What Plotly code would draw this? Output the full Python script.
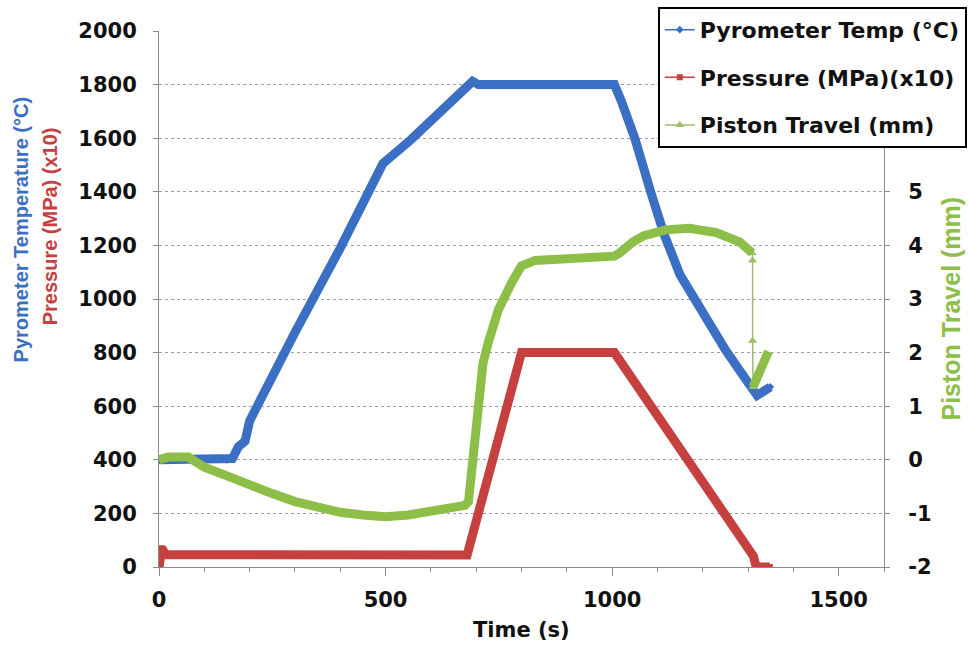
import plotly.graph_objects as go

# ---- Pyrometer temperature (°C) ----
time_temp = [0, 150, 162, 175, 190, 200, 225, 300, 400, 494, 556, 620, 685, 692, 705,
             1005, 1020, 1050, 1085, 1115, 1150, 1200, 1250, 1295, 1320, 1349]
temp_c = [400, 400, 405, 448, 470, 545, 630, 875, 1190, 1505, 1595, 1695, 1800, 1812, 1800,
          1800, 1740, 1600, 1400, 1240, 1090, 945, 810, 700, 640, 672]

# ---- Pressure (MPa) ----
time_press = [0, 6, 15, 680, 800, 1005, 1312, 1318, 1348]
press_mpa = [0, 7.0, 4.6, 4.5, 80, 80, 4.0, 0, 0]

# ---- Piston travel (mm) ----
time_piston = [0, 20, 65, 100, 150, 200, 250, 300, 350, 400, 450, 500, 550, 600, 650, 675, 683,
               690, 697, 705, 715, 727, 749, 778, 800, 830, 900, 1005, 1015, 1030, 1045, 1070,
               1118, 1170, 1230, 1282, 1309,
               1310, 1310, 1311,
               1325, 1337, 1345]
piston_mm = [0, 0.05, 0.05, -0.14, -0.3, -0.48, -0.63, -0.78, -0.9, -0.98, -1.03, -1.06, -1.03,
             -0.96, -0.89, -0.85, -0.78,
             -0.2, 0.6, 1.3, 1.8, 2.2, 2.8, 3.3, 3.62, 3.72, 3.75, 3.8, 3.85, 3.97, 4.06, 4.18,
             4.29, 4.32, 4.24, 4.06, 3.86,
             3.72, 2.22, 1.36,
             1.62, 1.85, 2.02]
drop_start, drop_end = 36, 39   # indices bounding the rapid unloading drop

x_ticks = [0, 500, 1000, 1500]
y2_ticks = [-2, -1, 0, 1, 2, 3, 4, 5]
y2_labels = ["-2", "-1", "0", "1", "2", "3", "4", "5"]

BLUE = "#3B6FC4"
RED = "#C5403E"
GREEN = "#8DBE48"
GREEN_THIN = "#9DBD6A"
TICK_FONT = dict(family="DejaVu Sans", size=21, color="#111111", weight="bold")
AXIS_GREY = "#8a8a8a"
THICK = 9

press_x10 = [p * 10 for p in press_mpa]

fig = go.Figure()

# legend traces: thin line with markers, sitting under the thick bands
fig.add_trace(go.Scatter(
    x=time_temp, y=temp_c, mode="lines+markers", name="Pyrometer Temp (°C)",
    legendgroup="temp", line=dict(color=BLUE, width=1.5),
    marker=dict(symbol="diamond", size=6, color=BLUE)))
fig.add_trace(go.Scatter(
    x=time_press, y=press_x10, mode="lines+markers", name="Pressure (MPa)(x10)",
    legendgroup="press", line=dict(color=RED, width=1.5),
    marker=dict(symbol="square", size=6, color=RED)))

# thick bands
fig.add_trace(go.Scatter(
    x=time_temp, y=temp_c, mode="lines", showlegend=False, legendgroup="temp",
    line=dict(color=BLUE, width=THICK)))
fig.add_trace(go.Scatter(
    x=time_press, y=press_x10, mode="lines", showlegend=False, legendgroup="press",
    line=dict(color=RED, width=THICK)))

# piston travel on the secondary axis
fig.add_trace(go.Scatter(
    x=time_piston[drop_start:drop_end + 1], y=piston_mm[drop_start:drop_end + 1],
    yaxis="y2", mode="lines+markers", name="Piston Travel (mm)", legendgroup="piston",
    line=dict(color=GREEN_THIN, width=1.5),
    marker=dict(symbol="triangle-up", size=8, color=GREEN_THIN)))
fig.add_trace(go.Scatter(
    x=time_piston[:drop_start + 1], y=piston_mm[:drop_start + 1], yaxis="y2", mode="lines",
    showlegend=False, legendgroup="piston", line=dict(color=GREEN, width=THICK)))
fig.add_trace(go.Scatter(
    x=time_piston[drop_end:], y=piston_mm[drop_end:], yaxis="y2", mode="lines",
    showlegend=False, legendgroup="piston", line=dict(color=GREEN, width=THICK)))

annotations = [
    dict(text="Time (s)", x=0.5, y=-0.118, xref="paper", yref="paper",
         xanchor="center", yanchor="middle", showarrow=False,
         font=dict(family="DejaVu Sans", size=21, color="#111111", weight="bold")),
    dict(text="Pyrometer Temperature (°C)", x=-0.191, y=0.629, xref="paper", yref="paper",
         xanchor="center", yanchor="middle", showarrow=False, textangle=-90,
         font=dict(family="Liberation Sans", size=20, color=BLUE, weight="bold")),
    dict(text="Pressure (MPa) (x10)", x=-0.150, y=0.636, xref="paper", yref="paper",
         xanchor="center", yanchor="middle", showarrow=False, textangle=-90,
         font=dict(family="Liberation Sans", size=20, color=RED, weight="bold")),
    dict(text="Piston Travel (mm)", x=1.093, y=0.483, xref="paper", yref="paper",
         xanchor="center", yanchor="middle", showarrow=False, textangle=-90,
         font=dict(family="Liberation Sans", size=25, color=GREEN, weight="bold")),
]

fig.update_layout(
    width=968, height=647,
    margin=dict(l=159, r=84, t=31, b=80, autoexpand=False),
    paper_bgcolor="white", plot_bgcolor="white",
    font=dict(family="DejaVu Sans", color="#111111"),
    xaxis=dict(range=[0, 1600], tickvals=x_ticks, showgrid=False, zeroline=False,
               showline=True, linecolor=AXIS_GREY, linewidth=1,
               ticks="outside", ticklen=8, tickcolor=AXIS_GREY,
               minor=dict(dtick=100, ticks="outside", ticklen=4, tickcolor=AXIS_GREY),
               tickfont=TICK_FONT, ticklabelstandoff=6),
    yaxis=dict(range=[0, 2000], dtick=200, showgrid=True, gridcolor="#a0a0a0",
               griddash="dot", gridwidth=1, zeroline=False,
               showline=True, linecolor=AXIS_GREY, linewidth=1,
               ticks="outside", ticklen=5, tickcolor=AXIS_GREY,
               tickfont=TICK_FONT, ticklabelstandoff=12),
    yaxis2=dict(range=[-2, 8], tickvals=y2_ticks, ticktext=y2_labels, overlaying="y",
                side="right", showgrid=False,
                zeroline=False, showline=True, linecolor=AXIS_GREY, linewidth=1,
                ticks="outside", ticklen=5, tickcolor=AXIS_GREY,
                tickfont=TICK_FONT, ticklabelstandoff=14),
    legend=dict(x=0.688, y=1.045, xanchor="left", yanchor="top",
                bgcolor="white", bordercolor="black", borderwidth=2,
                font=dict(family="DejaVu Sans", size=22, color="#111111", weight="bold"),
                itemwidth=30, traceorder="grouped", tracegroupgap=16),
    annotations=annotations,
)

fig.write_html("out.html")
